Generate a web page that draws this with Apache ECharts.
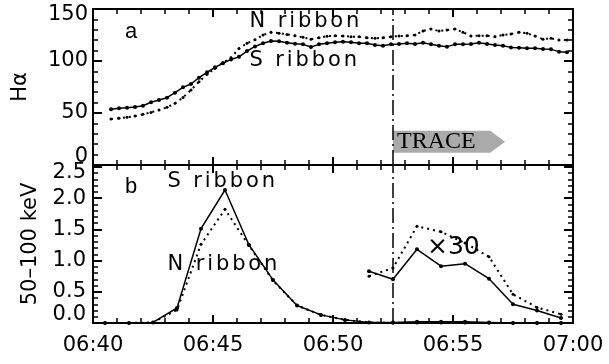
<!DOCTYPE html>
<html><head><meta charset="utf-8">
<script src="https://cdn.jsdelivr.net/npm/echarts@6/dist/echarts.min.js"></script>
<style>html,body{margin:0;padding:0;background:#fff}#c{width:609px;height:364px}</style>
</head><body><div id="c"></div>
<script>
// ---- Data ----
const haTimes = ['06:40:45','06:41:05','06:41:25','06:41:45','06:42:05','06:42:25','06:42:45','06:43:05','06:43:25','06:43:45',
 '06:44:05','06:44:25','06:44:45','06:45:05','06:45:25','06:45:45','06:46:05','06:46:25','06:46:45','06:47:05',
 '06:47:25','06:47:45','06:48:05','06:48:25','06:48:45','06:49:05','06:49:25','06:49:45','06:50:05','06:50:25',
 '06:50:45','06:51:05','06:51:25','06:51:45','06:52:05','06:52:25','06:52:45','06:53:05','06:53:25','06:53:45',
 '06:54:05','06:54:25','06:54:45','06:55:05','06:55:25','06:55:45','06:56:05','06:56:25','06:56:45','06:57:05',
 '06:57:25','06:57:45','06:58:05','06:58:25','06:58:45','06:59:05','06:59:25','06:59:45'];
const haS = [53.5,54.5,55.1,55.8,57.0,60.3,62.5,64.7,69.5,74.7,
 77.9,84.0,89.1,93.9,97.8,101.5,104.0,109.5,114.0,117.0,
 119.2,119.0,117.5,116.5,116.0,113.5,116.0,117.0,118.0,118.6,
 118.0,117.0,117.0,115.4,114.7,116.0,116.3,117.0,116.3,117.6,
 116.0,114.7,113.8,116.0,116.0,116.3,117.6,116.3,115.4,114.7,
 113.1,112.8,112.2,112.2,111.5,111.2,109.0,108.3];
const haN = [44.2,44.9,45.8,47.1,48.7,50.6,52.9,55.5,59.3,65.0,
 72.1,80.1,87.2,92.9,98.4,103.2,112.0,117.0,120.5,125.0,
 127.6,126.8,125.6,124.3,122.8,120.9,122.4,123.8,124.3,124.0,
 123.4,123.4,122.4,121.8,122.4,123.4,124.0,124.3,125.0,128.8,
 130.8,128.8,129.8,130.8,127.6,124.0,124.3,124.3,123.4,125.0,
 126.0,127.6,126.6,124.0,121.0,121.8,120.2,120.2];

const hxrTimes = ['06:40:30','06:41:30','06:42:30','06:43:30','06:44:30','06:45:30','06:46:30','06:47:30','06:48:30','06:49:30',
 '06:50:30','06:51:30','06:52:30','06:53:30','06:54:30','06:55:30','06:56:30','06:57:30','06:58:30','06:59:30'];
const hxrS = [0.00,0.00,0.01,0.24,1.51,2.13,1.25,0.69,0.28,0.13,0.05,0.01,0.01,0.02,0.02,0.02,0.01,0.00,0.00,0.00];
const hxrN = [0.00,0.00,0.01,0.21,1.26,1.82,1.24,0.68,0.28,0.13,0.05,0.01,0.00,0.00,0.00,0.00,0.00,0.00,0.00,0.00];

const x30Times = ['06:51:30','06:52:30','06:53:30','06:54:30','06:55:30','06:56:30','06:57:30','06:58:30','06:59:30'];
const x30S = [0.83,0.70,1.18,0.91,0.95,0.71,0.30,0.20,0.08];
const x30N = [0.75,0.88,1.55,1.46,1.28,1.06,0.46,0.25,0.14];

const xTickLabels = ['06:40','06:45','06:50','06:55','07:00'];
const traceTime = '06:52:30';

// ---- helpers ----
function toMin(s){ const p = s.split(':').map(Number); return (p[0]-6)*60 + p[1] - 40 + (p[2]||0)/60; }
function pairs(ts, vs){ return ts.map((t,i)=>[toMin(t), vs[i]]); }
const FONT = 'DejaVu Sans';
function spaced(str){ return str.split('').map(ch=>'{c|'+ch+'}').join(''); }
const BLACK = '#000';

function xAx(grid, pos, labels){
  return {type:'value', gridIndex:grid, position:pos, min:0, max:20, interval:5,
    axisLine:{show:true, onZero:false, lineStyle:{color:BLACK, width:2}},
    axisTick:{show:true, inside:true, length:8, lineStyle:{color:BLACK, width:2}},
    minorTick:{show:true, splitNumber:5, length:5, lineStyle:{color:BLACK, width:1.5}},
    splitLine:{show:false}, minorSplitLine:{show:false},
    axisLabel: labels ? {show:true, margin:12, color:BLACK, fontFamily:FONT, fontSize:21,
      formatter:v=>xTickLabels[Math.round(v/5)]} : {show:false}};
}
function yAx(grid, pos, min, max, interval, label, name, nameGap){
  return {type:'value', gridIndex:grid, position:pos, min:min, max:max, interval:interval,
    name:name||'', nameLocation:'middle', nameGap:nameGap||0, nameRotate:90,
    nameTextStyle:{color:BLACK, fontFamily:FONT, fontSize:21},
    axisLine:{show:true, onZero:false, lineStyle:{color:BLACK, width:2}},
    axisTick:{show:true, inside:true, length:9, lineStyle:{color:BLACK, width:2}},
    minorTick:{show:true, splitNumber:5, length:5, lineStyle:{color:BLACK, width:1.5}},
    splitLine:{show:false}, minorSplitLine:{show:false},
    axisLabel: label || {show:false}};
}
const richEdge = {
  t:{fontFamily:FONT, fontSize:21, color:BLACK, padding:[12,0,0,0]},
  b:{fontFamily:FONT, fontSize:21, color:BLACK, padding:[0,0,16,0]}
};
const haLabel = {show:true, margin:5, color:BLACK, fontFamily:FONT, fontSize:21, rich:richEdge,
  formatter:v=> v===150 ? '{t|150}' : v===0 ? '{b|0}' : String(v)};
const hxLabel = {show:true, margin:7, color:BLACK, fontFamily:FONT, fontSize:21, rich:richEdge, showMaxLabel:true,
  formatter:v=> v>2.5001 ? '' : (Math.abs(v-2.5)<1e-6 ? '{t|2.5}' : (v===0 ? '{b|0.0}' : v.toFixed(1)))};

const markV = {silent:true, symbol:['none','none'], label:{show:false},
  lineStyle:{color:BLACK, width:1.5, type:[15,4,2,4]}, emphasis:{disabled:true},
  data:[{xAxis:toMin(traceTime)}]};

const solid = {color:BLACK, width:1.5};
const dotted = {color:BLACK, width:2, type:[2,4]};

const chart = echarts.init(document.getElementById('c'), null, {renderer:'canvas'});
const spacedRich = {c:{fontFamily:FONT, fontSize:21, color:BLACK, padding:[0,1.45,0,1.45]}};
function label(text, x, y){
  return {type:'text', x:x, y:y, style:{text:spaced(text), rich:spacedRich, fill:BLACK,
    font:'21px '+FONT, verticalAlign:'middle'}};
}
chart.setOption({
  animation:false,
  backgroundColor:'#fff',
  grid:[{left:93, top:9, width:480, height:156}, {left:93, top:165, width:480, height:158}],
  xAxis:[xAx(0,'bottom',false), xAx(0,'top',false), xAx(1,'bottom',true), xAx(1,'top',false)],
  yAxis:[yAx(0,'left',0,150,50,haLabel,'H\u03b1',62), yAx(0,'right',0,150,50),
         yAx(1,'left',0,2.53,0.5,hxLabel,'50\u2013100 keV',52), yAx(1,'right',0,2.53,0.5)],
  series:[
    {type:'custom', xAxisIndex:0, yAxisIndex:0, silent:true, z:1,
     data:[[toMin(traceTime), 16.55, 17.17, 11.8, 33]],
     renderItem:function(params, api){
       const x0 = api.value(0), x1 = api.value(1), x2 = api.value(2), yb = api.value(3), yt = api.value(4);
       const ym = (yb+yt)/2;
       const a = api.coord([x0,yt]), b = api.coord([x1,yt]), c = api.coord([x2,ym]), d = api.coord([x1,yb]), e = api.coord([x0,yb]);
       return {type:'group', children:[
         {type:'polygon', shape:{points:[a,b,c,d,e]}, style:{fill:'#aaaaaa', stroke:null}},
         {type:'text', x:a[0]+4, y:c[1], style:{text:'TRACE', font:'24px "Liberation Serif"', fill:'#000', verticalAlign:'middle', align:'left'}}
       ]};
     }},
    {name:'S ribbon', type:'line', xAxisIndex:0, yAxisIndex:0, data:pairs(haTimes, haS), symbol:'circle', symbolSize:4,
     lineStyle:solid, itemStyle:{color:BLACK}, markLine:markV, z:3},
    {name:'N ribbon', type:'line', xAxisIndex:0, yAxisIndex:0, data:pairs(haTimes, haN), symbol:'circle', symbolSize:3,
     lineStyle:dotted, itemStyle:{color:BLACK}, z:3},
    {name:'S ribbon HXR', type:'line', xAxisIndex:2, yAxisIndex:2, data:pairs(hxrTimes, hxrS), symbol:'circle', symbolSize:4,
     lineStyle:solid, itemStyle:{color:BLACK}, markLine:markV, z:3},
    {name:'N ribbon HXR', type:'line', xAxisIndex:2, yAxisIndex:2, data:pairs(hxrTimes, hxrN), symbol:'circle', symbolSize:3,
     lineStyle:dotted, itemStyle:{color:BLACK}, z:3},
    {name:'S ribbon x30', type:'line', xAxisIndex:2, yAxisIndex:2, data:pairs(x30Times, x30S), symbol:'circle', symbolSize:4,
     lineStyle:solid, itemStyle:{color:BLACK}, z:3},
    {name:'N ribbon x30', type:'line', xAxisIndex:2, yAxisIndex:2, data:pairs(x30Times, x30N), symbol:'circle', symbolSize:3,
     lineStyle:dotted, itemStyle:{color:BLACK}, z:3}
  ],
  graphic:[
    {type:'text', x:131, y:32, style:{text:'a', font:'22px "Liberation Sans"', fill:BLACK, align:'center', verticalAlign:'middle'}},
    {type:'text', x:131, y:187, style:{text:'b', font:'22px "Liberation Sans"', fill:BLACK, align:'center', verticalAlign:'middle'}},
    label('N ribbon', 248, 22),
    label('S ribbon', 248, 61),
    label('S ribbon', 166, 182),
    label('N ribbon', 166, 265),
    {type:'text', x:427, y:247, style:{text:'\u00d730', font:'25px "DejaVu Sans"', fill:BLACK, verticalAlign:'middle'}}
  ]
});
</script></body></html>
